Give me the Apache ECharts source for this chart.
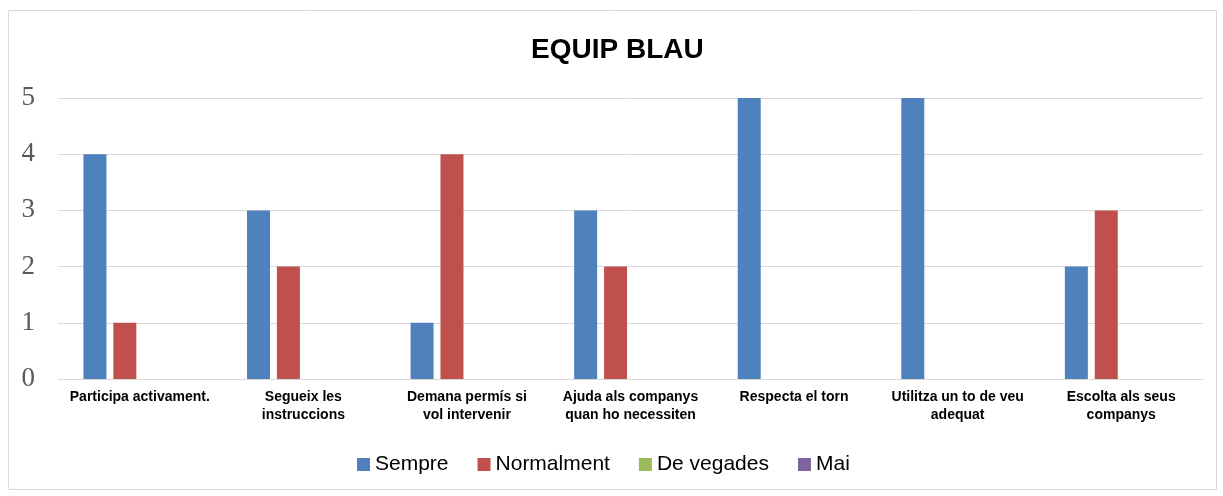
<!DOCTYPE HTML>
<html lang="ca">
<head>
<meta charset="utf-8">
<title>EQUIP BLAU</title>
<style>
html, body {
  margin: 0;
  background: #fff;
}
#chart {
  width: 1223px;
  height: 496px;
}
</style>
</head>
<body>
<div id="chart"></div>
<script src="https://cdn.jsdelivr.net/npm/echarts@6/dist/echarts.min.js"></script>
<script>
var categories = [
  'Participa activament.',
  'Segueix les\ninstruccions',
  'Demana permís si\nvol intervenir',
  'Ajuda als companys\nquan ho necessiten',
  'Respecta el torn',
  'Utilitza un to de veu\nadequat',
  'Escolta als seus\ncompanys'
];
var sempre = [4, 3, 1, 3, 5, 5, 2];
var normalment = [1, 2, 4, 2, 0, 0, 3];
var deVegades = [0, 0, 0, 0, 0, 0, 0];
var mai = [0, 0, 0, 0, 0, 0, 0];
var yTicks = [0, 1, 2, 3, 4, 5];

function bar(name, data, color) {
  return {
    name: name,
    type: 'bar',
    data: data,
    barWidth: 23,
    barGap: '30%',
    itemStyle: { color: color },
    animation: false
  };
}

var chart = echarts.init(document.getElementById('chart'));
chart.setOption({
  animation: false,
  graphic: [{
    type: 'rect',
    shape: { x: 8.5, y: 10.5, width: 1208, height: 479 },
    style: { fill: 'none', stroke: '#d9d9d9', lineWidth: 1 },
    silent: true
  }],
  title: {
    text: 'EQUIP BLAU',
    left: 526,
    top: 31,
    textStyle: {
      fontFamily: 'Liberation Sans, Arial',
      fontWeight: 'bold',
      fontSize: 28,
      color: '#000'
    }
  },
  grid: {
    left: 58,
    right: 20,
    top: 98,
    bottom: 117,
    containLabel: false
  },
  legend: {
    bottom: 16,
    left: 352,
    itemWidth: 13,
    itemHeight: 13,
    itemGap: 29,
    icon: 'rect',
    textStyle: {
      fontFamily: 'Liberation Sans, Arial',
      fontSize: 21,
      color: '#000'
    },
    data: ['Sempre', 'Normalment', 'De vegades', 'Mai']
  },
  xAxis: {
    type: 'category',
    data: categories,
    axisTick: { show: false },
    axisLine: { lineStyle: { color: '#d9d9d9', width: 1 } },
    axisLabel: {
      interval: 0,
      margin: 9,
      lineHeight: 18,
      fontFamily: 'Liberation Sans, Arial',
      fontWeight: 'bold',
      fontSize: 14,
      color: '#000'
    }
  },
  yAxis: {
    type: 'value',
    min: yTicks[0],
    max: yTicks[yTicks.length - 1],
    interval: 1,
    axisLine: { show: false },
    axisTick: { show: false },
    splitLine: { lineStyle: { color: '#d9d9d9', width: 1 } },
    axisLabel: {
      margin: 23,
      fontFamily: 'Liberation Serif, DejaVu Serif',
      fontSize: 27,
      color: '#595959'
    }
  },
  series: [
    bar('Sempre', sempre, '#4f81bd'),
    bar('Normalment', normalment, '#c0504d'),
    bar('De vegades', deVegades, '#9bbb59'),
    bar('Mai', mai, '#8064a2')
  ]
});
</script>
</body>
</html>
